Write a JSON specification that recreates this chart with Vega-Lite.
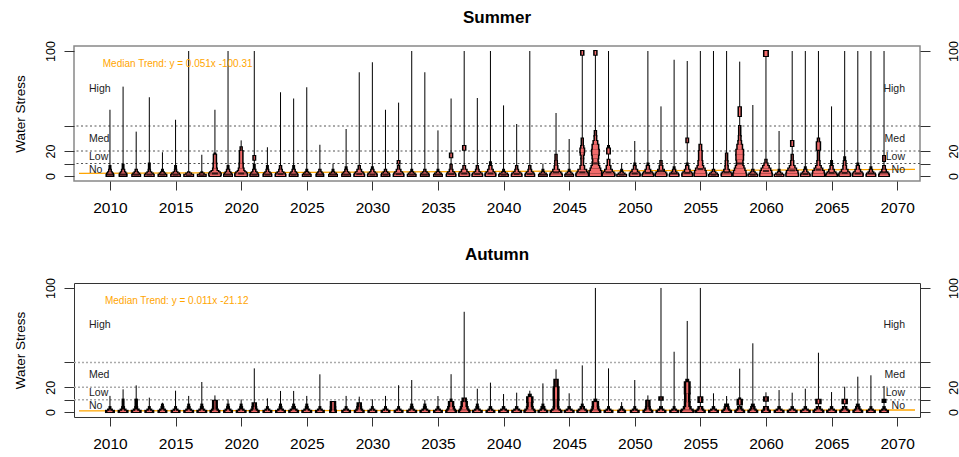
{
"$schema": "https://vega.github.io/schema/vega-lite/v6.json",
"padding": {"left": 12, "top": 7, "right": 0, "bottom": 0},
"spacing": 28,
"config": {"font": "Liberation Sans", "axis": {"grid": false, "domain": false, "tickColor": "#333", "labelColor": "#000", "labelFlush": false, "labelOverlap": false}},
"datasets": {
"thr": [{"t": 10}, {"t": 20}, {"t": 40}],
"labs": [{"lab": "High", "v": 70}, {"lab": "Med", "v": 30}, {"lab": "Low", "v": 15}, {"lab": "No", "v": 5}],
"sumTrend": [{"year": 2007.64, "v": 2.08}, {"year": 2071.36, "v": 5.33}],
"autTrend": [{"year": 2007.64, "v": 0.96}, {"year": 2071.36, "v": 1.66}],
"sumStat": [
{"year":2010,"max":53,"med":1},{"year":2011,"max":71.5,"med":1},{"year":2012,"max":35.5,"med":1},{"year":2013,"max":63,"med":1},{"year":2014,"max":19,"med":1},{"year":2015,"max":45,"med":1},{"year":2016,"max":100,"med":0.5},{"year":2017,"max":17,"med":0.5},{"year":2018,"max":53,"med":2},{"year":2019,"max":100,"med":1},
{"year":2020,"max":28.5,"med":2},{"year":2021,"max":100,"med":1},{"year":2022,"max":23,"med":1},{"year":2023,"max":67,"med":1.5},{"year":2024,"max":62,"med":1},{"year":2025,"max":71,"med":1},{"year":2026,"max":25,"med":1},{"year":2027,"max":10,"med":1},{"year":2028,"max":37.6,"med":1},{"year":2029,"max":83,"med":1.5},
{"year":2030,"max":91,"med":1},{"year":2031,"max":53,"med":1},{"year":2032,"max":58.7,"med":1.5},{"year":2033,"max":100,"med":1},{"year":2034,"max":83,"med":1},{"year":2035,"max":36.5,"med":1},{"year":2036,"max":62,"med":1.5},{"year":2037,"max":100,"med":2},{"year":2038,"max":62.4,"med":1.5},{"year":2039,"max":100,"med":2},
{"year":2040,"max":56.5,"med":1},{"year":2041,"max":41.6,"med":1.5},{"year":2042,"max":100,"med":1.5},{"year":2043,"max":10,"med":1},{"year":2044,"max":50.4,"med":3},{"year":2045,"max":29.6,"med":1},{"year":2046,"max":100,"med":3},{"year":2047,"max":100,"med":10},{"year":2048,"max":100,"med":3},{"year":2049,"max":10,"med":1},
{"year":2050,"max":28,"med":2},{"year":2051,"max":100,"med":2.5},{"year":2052,"max":55.7,"med":4},{"year":2053,"max":93,"med":2},{"year":2054,"max":92,"med":2.5},{"year":2055,"max":100,"med":5.5},{"year":2056,"max":100,"med":1},{"year":2057,"max":100,"med":3},{"year":2058,"max":91.5,"med":10},{"year":2059,"max":56.8,"med":1},
{"year":2060,"max":100,"med":4},{"year":2061,"max":36,"med":1},{"year":2062,"max":100,"med":4.5},{"year":2063,"max":100,"med":1.5},{"year":2064,"max":100,"med":5},{"year":2065,"max":55.7,"med":2.5},{"year":2066,"max":100,"med":2.5},{"year":2067,"max":100,"med":2},{"year":2068,"max":100,"med":2},{"year":2069,"max":100,"med":3}
],
"autStat": [
{"year":2010,"max":13},{"year":2011,"max":18.3},{"year":2012,"max":21.5},{"year":2013,"max":11.6},{"year":2014,"max":7.5},{"year":2015,"max":17.2},{"year":2016,"max":13},{"year":2017,"max":24.2},{"year":2018,"max":13.4},{"year":2019,"max":10.2},
{"year":2020,"max":10.2},{"year":2021,"max":35.2},{"year":2022,"max":11},{"year":2023,"max":17},{"year":2024,"max":17},{"year":2025,"max":13},{"year":2026,"max":30.4},{"year":2027,"max":8.5},{"year":2028,"max":13},{"year":2029,"max":12.4},
{"year":2030,"max":10.3},{"year":2031,"max":13},{"year":2032,"max":21.6},{"year":2033,"max":25.8},{"year":2034,"max":9.8},{"year":2035,"max":12.9},{"year":2036,"max":30.5},{"year":2037,"max":80.8},{"year":2038,"max":18.8},{"year":2039,"max":23.7},
{"year":2040,"max":14.5},{"year":2041,"max":15.6},{"year":2042,"max":17.2},{"year":2043,"max":23.1},{"year":2044,"max":34.4},{"year":2045,"max":15.1},{"year":2046,"max":37.6},{"year":2047,"max":100},{"year":2048,"max":35.2},{"year":2049,"max":8},
{"year":2050,"max":25.8},{"year":2051,"max":13.4},{"year":2052,"max":100},{"year":2053,"max":48.6},{"year":2054,"max":73.4},{"year":2055,"max":100},{"year":2056,"max":15.1},{"year":2057,"max":12.9},{"year":2058,"max":35},{"year":2059,"max":55.4},
{"year":2060,"max":15.9},{"year":2061,"max":17.7},{"year":2062,"max":15.6},{"year":2063,"max":18.8},{"year":2064,"max":47.8},{"year":2065,"max":16.1},{"year":2066,"max":20.4},{"year":2067,"max":28.5},{"year":2068,"max":29.6},{"year":2069,"max":21}
],
"sumSeg": [
{"year":2010,"lo":0,"hi":1,"d":7},{"year":2010,"lo":1,"hi":2,"d":6},{"year":2010,"lo":2,"hi":3,"d":4},{"year":2010,"lo":3,"hi":5,"d":2},{"year":2010,"lo":5,"hi":8,"d":1},
{"year":2011,"lo":0,"hi":1,"d":7},{"year":2011,"lo":1,"hi":2,"d":6.5},{"year":2011,"lo":2,"hi":3,"d":4.5},{"year":2011,"lo":3,"hi":5,"d":2.5},{"year":2011,"lo":5,"hi":9,"d":1},
{"year":2012,"lo":0,"hi":1,"d":8},{"year":2012,"lo":1,"hi":2,"d":6},{"year":2012,"lo":2,"hi":3,"d":3.5},{"year":2012,"lo":3,"hi":5,"d":1.5},
{"year":2013,"lo":0,"hi":1,"d":9},{"year":2013,"lo":1,"hi":2,"d":7},{"year":2013,"lo":2,"hi":3,"d":4},{"year":2013,"lo":3,"hi":5,"d":1.5},{"year":2013,"lo":5,"hi":10,"d":1},
{"year":2014,"lo":0,"hi":1,"d":8},{"year":2014,"lo":1,"hi":2,"d":5.5},{"year":2014,"lo":2,"hi":3,"d":3},{"year":2014,"lo":3,"hi":5,"d":1},
{"year":2015,"lo":0,"hi":1,"d":9},{"year":2015,"lo":1,"hi":2,"d":7},{"year":2015,"lo":2,"hi":3,"d":4},{"year":2015,"lo":3,"hi":5,"d":1.5},{"year":2015,"lo":5,"hi":8,"d":1},
{"year":2016,"lo":0,"hi":1,"d":9},{"year":2016,"lo":1,"hi":2,"d":5},{"year":2016,"lo":2,"hi":3,"d":1.5},
{"year":2017,"lo":0,"hi":1,"d":8},{"year":2017,"lo":1,"hi":2,"d":4},{"year":2017,"lo":2,"hi":3,"d":1},
{"year":2018,"lo":0,"hi":1,"d":11},{"year":2018,"lo":1,"hi":2,"d":12},{"year":2018,"lo":2,"hi":3,"d":10},{"year":2018,"lo":3,"hi":4,"d":7},{"year":2018,"lo":4,"hi":6,"d":4},{"year":2018,"lo":6,"hi":10,"d":3},{"year":2018,"lo":10,"hi":17,"d":2.5},{"year":2018,"lo":17,"hi":18,"d":1},
{"year":2019,"lo":0,"hi":1,"d":8},{"year":2019,"lo":1,"hi":2,"d":7},{"year":2019,"lo":2,"hi":3,"d":5},{"year":2019,"lo":3,"hi":5,"d":2.5},{"year":2019,"lo":5,"hi":8,"d":1},
{"year":2020,"lo":0,"hi":1,"d":12},{"year":2020,"lo":1,"hi":2,"d":12},{"year":2020,"lo":2,"hi":3,"d":10},{"year":2020,"lo":3,"hi":4,"d":7},{"year":2020,"lo":4,"hi":6,"d":5},{"year":2020,"lo":6,"hi":10,"d":3.5},{"year":2020,"lo":10,"hi":20,"d":3},{"year":2020,"lo":20,"hi":23,"d":1.5},
{"year":2021,"lo":0,"hi":1,"d":8},{"year":2021,"lo":1,"hi":2,"d":7},{"year":2021,"lo":2,"hi":3,"d":5},{"year":2021,"lo":3,"hi":5,"d":2.5},{"year":2021,"lo":5,"hi":9,"d":1},{"year":2021,"lo":13,"hi":16,"d":2},
{"year":2022,"lo":0,"hi":1,"d":8},{"year":2022,"lo":1,"hi":2,"d":7},{"year":2022,"lo":2,"hi":3,"d":4.5},{"year":2022,"lo":3,"hi":5,"d":2},{"year":2022,"lo":5,"hi":8,"d":1},
{"year":2023,"lo":0,"hi":1,"d":10},{"year":2023,"lo":1,"hi":2,"d":9},{"year":2023,"lo":2,"hi":3,"d":6},{"year":2023,"lo":3,"hi":5,"d":3},{"year":2023,"lo":5,"hi":8,"d":1.5},
{"year":2024,"lo":0,"hi":1,"d":8},{"year":2024,"lo":1,"hi":2,"d":7},{"year":2024,"lo":2,"hi":3,"d":5},{"year":2024,"lo":3,"hi":5,"d":2.5},{"year":2024,"lo":5,"hi":8,"d":1},
{"year":2025,"lo":0,"hi":1,"d":8},{"year":2025,"lo":1,"hi":2,"d":6},{"year":2025,"lo":2,"hi":3,"d":3},{"year":2025,"lo":3,"hi":5,"d":1},
{"year":2026,"lo":0,"hi":1,"d":7},{"year":2026,"lo":1,"hi":2,"d":6},{"year":2026,"lo":2,"hi":3,"d":3.5},{"year":2026,"lo":3,"hi":5,"d":1.5},
{"year":2027,"lo":0,"hi":1,"d":8},{"year":2027,"lo":1,"hi":2,"d":6},{"year":2027,"lo":2,"hi":3,"d":2.5},{"year":2027,"lo":3,"hi":5,"d":1},
{"year":2028,"lo":0,"hi":1,"d":8},{"year":2028,"lo":1,"hi":2,"d":7},{"year":2028,"lo":2,"hi":3,"d":4.5},{"year":2028,"lo":3,"hi":5,"d":2},{"year":2028,"lo":5,"hi":7,"d":1},
{"year":2029,"lo":0,"hi":1,"d":10},{"year":2029,"lo":1,"hi":2,"d":9},{"year":2029,"lo":2,"hi":3,"d":7},{"year":2029,"lo":3,"hi":5,"d":4},{"year":2029,"lo":5,"hi":8,"d":1.5},
{"year":2030,"lo":0,"hi":1,"d":9},{"year":2030,"lo":1,"hi":2,"d":8},{"year":2030,"lo":2,"hi":3,"d":5},{"year":2030,"lo":3,"hi":5,"d":2.5},{"year":2030,"lo":5,"hi":7,"d":1},
{"year":2031,"lo":0,"hi":1,"d":8},{"year":2031,"lo":1,"hi":2,"d":7},{"year":2031,"lo":2,"hi":3,"d":4},{"year":2031,"lo":3,"hi":5,"d":1.5},
{"year":2032,"lo":0,"hi":1,"d":10},{"year":2032,"lo":1,"hi":2,"d":9},{"year":2032,"lo":2,"hi":3,"d":7},{"year":2032,"lo":3,"hi":5,"d":4},{"year":2032,"lo":5,"hi":8,"d":1.5},{"year":2032,"lo":10,"hi":12,"d":2},
{"year":2033,"lo":0,"hi":1,"d":8},{"year":2033,"lo":1,"hi":2,"d":6},{"year":2033,"lo":2,"hi":3,"d":3},{"year":2033,"lo":3,"hi":5,"d":1},
{"year":2034,"lo":0,"hi":1,"d":8},{"year":2034,"lo":1,"hi":2,"d":7},{"year":2034,"lo":2,"hi":3,"d":4},{"year":2034,"lo":3,"hi":5,"d":1.5},
{"year":2035,"lo":0,"hi":1,"d":8},{"year":2035,"lo":1,"hi":2,"d":6},{"year":2035,"lo":2,"hi":3,"d":3},{"year":2035,"lo":3,"hi":5,"d":1},
{"year":2036,"lo":0,"hi":1,"d":9},{"year":2036,"lo":1,"hi":2,"d":8},{"year":2036,"lo":2,"hi":3,"d":6},{"year":2036,"lo":3,"hi":5,"d":3},{"year":2036,"lo":5,"hi":9,"d":1.5},{"year":2036,"lo":15,"hi":18,"d":2.5},
{"year":2037,"lo":0,"hi":1,"d":10},{"year":2037,"lo":1,"hi":2,"d":10},{"year":2037,"lo":2,"hi":3,"d":8},{"year":2037,"lo":3,"hi":5,"d":5},{"year":2037,"lo":5,"hi":8,"d":2},{"year":2037,"lo":21,"hi":24,"d":2.5},
{"year":2038,"lo":0,"hi":1,"d":10},{"year":2038,"lo":1,"hi":2,"d":9},{"year":2038,"lo":2,"hi":3,"d":6},{"year":2038,"lo":3,"hi":5,"d":3},{"year":2038,"lo":5,"hi":8,"d":1.5},
{"year":2039,"lo":0,"hi":1,"d":10},{"year":2039,"lo":1,"hi":2,"d":10},{"year":2039,"lo":2,"hi":3,"d":8},{"year":2039,"lo":3,"hi":5,"d":5},{"year":2039,"lo":5,"hi":8,"d":2.5},{"year":2039,"lo":8,"hi":11,"d":1},
{"year":2040,"lo":0,"hi":1,"d":9},{"year":2040,"lo":1,"hi":2,"d":7},{"year":2040,"lo":2,"hi":3,"d":3},{"year":2040,"lo":3,"hi":5,"d":1},
{"year":2041,"lo":0,"hi":1,"d":10},{"year":2041,"lo":1,"hi":2,"d":9},{"year":2041,"lo":2,"hi":3,"d":6},{"year":2041,"lo":3,"hi":5,"d":3},{"year":2041,"lo":5,"hi":8,"d":1.5},
{"year":2042,"lo":0,"hi":1,"d":9},{"year":2042,"lo":1,"hi":2,"d":8},{"year":2042,"lo":2,"hi":3,"d":6},{"year":2042,"lo":3,"hi":5,"d":3},{"year":2042,"lo":5,"hi":8,"d":1.5},
{"year":2043,"lo":0,"hi":1,"d":8},{"year":2043,"lo":1,"hi":2,"d":6},{"year":2043,"lo":2,"hi":3,"d":2.5},{"year":2043,"lo":3,"hi":5,"d":1},
{"year":2044,"lo":0,"hi":1,"d":12},{"year":2044,"lo":1,"hi":2,"d":11},{"year":2044,"lo":2,"hi":3,"d":9},{"year":2044,"lo":3,"hi":5,"d":6},{"year":2044,"lo":5,"hi":8,"d":3},{"year":2044,"lo":8,"hi":12,"d":2},{"year":2044,"lo":12,"hi":17,"d":1.5},
{"year":2045,"lo":0,"hi":1,"d":8},{"year":2045,"lo":1,"hi":2,"d":6},{"year":2045,"lo":2,"hi":3,"d":3},{"year":2045,"lo":3,"hi":5,"d":1},
{"year":2046,"lo":0,"hi":1,"d":12},{"year":2046,"lo":1,"hi":2,"d":12},{"year":2046,"lo":2,"hi":3,"d":10},{"year":2046,"lo":3,"hi":5,"d":8},{"year":2046,"lo":5,"hi":8,"d":4},{"year":2046,"lo":8,"hi":14,"d":2},{"year":2046,"lo":14,"hi":17,"d":2},{"year":2046,"lo":17,"hi":19,"d":3.5},{"year":2046,"lo":19,"hi":22,"d":4},{"year":2046,"lo":22,"hi":24,"d":2.5},{"year":2046,"lo":24,"hi":30,"d":1.5},{"year":2046,"lo":97,"hi":100,"d":2.5},
{"year":2047,"lo":0,"hi":2,"d":12},{"year":2047,"lo":2,"hi":4,"d":12},{"year":2047,"lo":4,"hi":6,"d":10},{"year":2047,"lo":6,"hi":8,"d":8},{"year":2047,"lo":8,"hi":11,"d":6},{"year":2047,"lo":11,"hi":14,"d":5},{"year":2047,"lo":14,"hi":17,"d":6},{"year":2047,"lo":17,"hi":21,"d":7},{"year":2047,"lo":21,"hi":25,"d":6},{"year":2047,"lo":25,"hi":28,"d":4},{"year":2047,"lo":28,"hi":32,"d":2},{"year":2047,"lo":32,"hi":36,"d":1.5},{"year":2047,"lo":97,"hi":100,"d":2.5},
{"year":2048,"lo":0,"hi":1,"d":12},{"year":2048,"lo":1,"hi":2,"d":12},{"year":2048,"lo":2,"hi":3,"d":10},{"year":2048,"lo":3,"hi":5,"d":7},{"year":2048,"lo":5,"hi":8,"d":4},{"year":2048,"lo":8,"hi":13,"d":2},{"year":2048,"lo":18,"hi":22,"d":3},{"year":2048,"lo":22,"hi":24,"d":1},
{"year":2049,"lo":0,"hi":1,"d":9},{"year":2049,"lo":1,"hi":2,"d":6},{"year":2049,"lo":2,"hi":3,"d":2.5},{"year":2049,"lo":3,"hi":5,"d":1},
{"year":2050,"lo":0,"hi":1,"d":10},{"year":2050,"lo":1,"hi":2,"d":10},{"year":2050,"lo":2,"hi":3,"d":8},{"year":2050,"lo":3,"hi":5,"d":5},{"year":2050,"lo":5,"hi":8,"d":2},{"year":2050,"lo":8,"hi":10,"d":1},
{"year":2051,"lo":0,"hi":1,"d":11},{"year":2051,"lo":1,"hi":2,"d":10},{"year":2051,"lo":2,"hi":3,"d":8},{"year":2051,"lo":3,"hi":5,"d":5},{"year":2051,"lo":5,"hi":8,"d":2.5},{"year":2051,"lo":8,"hi":10,"d":1},
{"year":2052,"lo":0,"hi":1,"d":11},{"year":2052,"lo":1,"hi":2,"d":11},{"year":2052,"lo":2,"hi":3,"d":9},{"year":2052,"lo":3,"hi":5,"d":6},{"year":2052,"lo":5,"hi":8,"d":3},{"year":2052,"lo":8,"hi":12,"d":1.5},
{"year":2053,"lo":0,"hi":1,"d":9},{"year":2053,"lo":1,"hi":2,"d":8},{"year":2053,"lo":2,"hi":3,"d":5},{"year":2053,"lo":3,"hi":5,"d":2.5},{"year":2053,"lo":5,"hi":7,"d":1},
{"year":2054,"lo":0,"hi":1,"d":10},{"year":2054,"lo":1,"hi":2,"d":10},{"year":2054,"lo":2,"hi":3,"d":8},{"year":2054,"lo":3,"hi":5,"d":5},{"year":2054,"lo":5,"hi":8,"d":2.5},{"year":2054,"lo":8,"hi":10,"d":1},{"year":2054,"lo":27,"hi":30,"d":2},
{"year":2055,"lo":0,"hi":2,"d":12},{"year":2055,"lo":2,"hi":4,"d":11},{"year":2055,"lo":4,"hi":6,"d":9},{"year":2055,"lo":6,"hi":8,"d":6},{"year":2055,"lo":8,"hi":12,"d":4},{"year":2055,"lo":12,"hi":20,"d":3},{"year":2055,"lo":20,"hi":25,"d":2},
{"year":2056,"lo":0,"hi":1,"d":9},{"year":2056,"lo":1,"hi":2,"d":7},{"year":2056,"lo":2,"hi":3,"d":4},{"year":2056,"lo":3,"hi":5,"d":1.5},
{"year":2057,"lo":0,"hi":1,"d":10},{"year":2057,"lo":1,"hi":2,"d":10},{"year":2057,"lo":2,"hi":3,"d":8},{"year":2057,"lo":3,"hi":5,"d":5},{"year":2057,"lo":5,"hi":8,"d":2.5},{"year":2057,"lo":8,"hi":12,"d":2},{"year":2057,"lo":12,"hi":18,"d":1.5},
{"year":2058,"lo":0,"hi":2,"d":13},{"year":2058,"lo":2,"hi":4,"d":12},{"year":2058,"lo":4,"hi":6,"d":10},{"year":2058,"lo":6,"hi":8,"d":8},{"year":2058,"lo":8,"hi":10,"d":6},{"year":2058,"lo":10,"hi":13,"d":6},{"year":2058,"lo":13,"hi":17,"d":7},{"year":2058,"lo":17,"hi":21,"d":7},{"year":2058,"lo":21,"hi":25,"d":5},{"year":2058,"lo":25,"hi":28,"d":3},{"year":2058,"lo":28,"hi":32,"d":2},{"year":2058,"lo":32,"hi":40,"d":1.5},{"year":2058,"lo":48,"hi":55,"d":2.5},
{"year":2059,"lo":0,"hi":1,"d":9},{"year":2059,"lo":1,"hi":2,"d":7},{"year":2059,"lo":2,"hi":3,"d":4},{"year":2059,"lo":3,"hi":5,"d":1.5},
{"year":2060,"lo":0,"hi":2,"d":12},{"year":2060,"lo":2,"hi":4,"d":11},{"year":2060,"lo":4,"hi":6,"d":9},{"year":2060,"lo":6,"hi":8,"d":6},{"year":2060,"lo":8,"hi":10,"d":3.5},{"year":2060,"lo":10,"hi":13,"d":1.5},{"year":2060,"lo":96,"hi":100,"d":4},
{"year":2061,"lo":0,"hi":1,"d":9},{"year":2061,"lo":1,"hi":2,"d":6},{"year":2061,"lo":2,"hi":3,"d":2.5},{"year":2061,"lo":3,"hi":5,"d":1},
{"year":2062,"lo":0,"hi":2,"d":12},{"year":2062,"lo":2,"hi":4,"d":11},{"year":2062,"lo":4,"hi":6,"d":8},{"year":2062,"lo":6,"hi":8,"d":5},{"year":2062,"lo":8,"hi":12,"d":2.5},{"year":2062,"lo":12,"hi":17,"d":1.5},{"year":2062,"lo":24,"hi":28,"d":2.5},
{"year":2063,"lo":0,"hi":1,"d":9},{"year":2063,"lo":1,"hi":2,"d":8},{"year":2063,"lo":2,"hi":3,"d":5},{"year":2063,"lo":3,"hi":5,"d":2.5},{"year":2063,"lo":5,"hi":7,"d":1},
{"year":2064,"lo":0,"hi":2,"d":12},{"year":2064,"lo":2,"hi":4,"d":11},{"year":2064,"lo":4,"hi":6,"d":8},{"year":2064,"lo":6,"hi":8,"d":5},{"year":2064,"lo":8,"hi":12,"d":2.5},{"year":2064,"lo":12,"hi":20,"d":1.5},{"year":2064,"lo":21,"hi":27,"d":3.5},{"year":2064,"lo":27,"hi":30,"d":1.5},
{"year":2065,"lo":0,"hi":1,"d":11},{"year":2065,"lo":1,"hi":2,"d":10},{"year":2065,"lo":2,"hi":3,"d":8},{"year":2065,"lo":3,"hi":5,"d":5},{"year":2065,"lo":5,"hi":8,"d":2.5},{"year":2065,"lo":8,"hi":12,"d":1},
{"year":2066,"lo":0,"hi":1,"d":11},{"year":2066,"lo":1,"hi":2,"d":11},{"year":2066,"lo":2,"hi":3,"d":9},{"year":2066,"lo":3,"hi":5,"d":6},{"year":2066,"lo":5,"hi":8,"d":3},{"year":2066,"lo":8,"hi":12,"d":2},{"year":2066,"lo":12,"hi":15,"d":1},
{"year":2067,"lo":0,"hi":1,"d":10},{"year":2067,"lo":1,"hi":2,"d":10},{"year":2067,"lo":2,"hi":3,"d":8},{"year":2067,"lo":3,"hi":5,"d":5},{"year":2067,"lo":5,"hi":8,"d":2.5},{"year":2067,"lo":8,"hi":10,"d":1},
{"year":2068,"lo":0,"hi":1,"d":9},{"year":2068,"lo":1,"hi":2,"d":8},{"year":2068,"lo":2,"hi":3,"d":5},{"year":2068,"lo":3,"hi":5,"d":2.5},{"year":2068,"lo":5,"hi":7,"d":1},
{"year":2069,"lo":0,"hi":1,"d":10},{"year":2069,"lo":1,"hi":2,"d":9},{"year":2069,"lo":2,"hi":3,"d":7},{"year":2069,"lo":3,"hi":5,"d":4},{"year":2069,"lo":5,"hi":8,"d":2},{"year":2069,"lo":12,"hi":16,"d":2}
],
"autSeg": [
{"year":2010,"lo":0,"hi":1,"d":8},{"year":2010,"lo":1,"hi":2,"d":4},{"year":2010,"lo":2,"hi":4,"d":1},
{"year":2011,"lo":0,"hi":1,"d":9},{"year":2011,"lo":1,"hi":2,"d":5},{"year":2011,"lo":2,"hi":4,"d":2},{"year":2011,"lo":4,"hi":10,"d":1},
{"year":2012,"lo":0,"hi":1,"d":9},{"year":2012,"lo":1,"hi":2,"d":5},{"year":2012,"lo":2,"hi":4,"d":2},{"year":2012,"lo":4,"hi":10,"d":1.5},
{"year":2013,"lo":0,"hi":1,"d":8},{"year":2013,"lo":1,"hi":2,"d":4},{"year":2013,"lo":2,"hi":4,"d":1},
{"year":2014,"lo":0,"hi":1,"d":8},{"year":2014,"lo":1,"hi":2,"d":5},{"year":2014,"lo":2,"hi":4,"d":2},{"year":2014,"lo":4,"hi":6,"d":1},
{"year":2015,"lo":0,"hi":1,"d":8},{"year":2015,"lo":1,"hi":2,"d":4},{"year":2015,"lo":2,"hi":4,"d":1},
{"year":2016,"lo":0,"hi":1,"d":9},{"year":2016,"lo":1,"hi":2,"d":5},{"year":2016,"lo":2,"hi":4,"d":2},{"year":2016,"lo":4,"hi":6,"d":1},
{"year":2017,"lo":0,"hi":1,"d":9},{"year":2017,"lo":1,"hi":2,"d":5},{"year":2017,"lo":2,"hi":4,"d":2},{"year":2017,"lo":4,"hi":6,"d":1},
{"year":2018,"lo":0,"hi":1,"d":9},{"year":2018,"lo":1,"hi":2,"d":6},{"year":2018,"lo":2,"hi":4,"d":4},{"year":2018,"lo":4,"hi":9,"d":4},
{"year":2019,"lo":0,"hi":1,"d":8},{"year":2019,"lo":1,"hi":2,"d":5},{"year":2019,"lo":2,"hi":4,"d":2},{"year":2019,"lo":4,"hi":6,"d":1},
{"year":2020,"lo":0,"hi":1,"d":9},{"year":2020,"lo":1,"hi":2,"d":5},{"year":2020,"lo":2,"hi":4,"d":2},{"year":2020,"lo":4,"hi":6,"d":1},
{"year":2021,"lo":0,"hi":1,"d":9},{"year":2021,"lo":1,"hi":2,"d":6},{"year":2021,"lo":2,"hi":4,"d":4},{"year":2021,"lo":4,"hi":7,"d":3.5},
{"year":2022,"lo":0,"hi":1,"d":8},{"year":2022,"lo":1,"hi":2,"d":4},{"year":2022,"lo":2,"hi":4,"d":1},
{"year":2023,"lo":0,"hi":1,"d":9},{"year":2023,"lo":1,"hi":2,"d":5},{"year":2023,"lo":2,"hi":4,"d":2},{"year":2023,"lo":4,"hi":6,"d":1},
{"year":2024,"lo":0,"hi":1,"d":9},{"year":2024,"lo":1,"hi":2,"d":6},{"year":2024,"lo":2,"hi":4,"d":2.5},{"year":2024,"lo":4,"hi":6,"d":1},
{"year":2025,"lo":0,"hi":1,"d":9},{"year":2025,"lo":1,"hi":2,"d":5},{"year":2025,"lo":2,"hi":4,"d":2},{"year":2025,"lo":4,"hi":6,"d":1},
{"year":2026,"lo":0,"hi":1,"d":8},{"year":2026,"lo":1,"hi":2,"d":4},{"year":2026,"lo":2,"hi":4,"d":1},
{"year":2027,"lo":0,"hi":1,"d":6},{"year":2027,"lo":1,"hi":2,"d":5},{"year":2027,"lo":2,"hi":4,"d":4.5},{"year":2027,"lo":4,"hi":8,"d":4.5},
{"year":2028,"lo":0,"hi":1,"d":8},{"year":2028,"lo":1,"hi":2,"d":4},{"year":2028,"lo":2,"hi":4,"d":1},
{"year":2029,"lo":0,"hi":1,"d":9},{"year":2029,"lo":1,"hi":2,"d":6},{"year":2029,"lo":2,"hi":4,"d":4},{"year":2029,"lo":4,"hi":7,"d":3.5},
{"year":2030,"lo":0,"hi":1,"d":8},{"year":2030,"lo":1,"hi":2,"d":4},{"year":2030,"lo":2,"hi":4,"d":1},
{"year":2031,"lo":0,"hi":1,"d":8},{"year":2031,"lo":1,"hi":2,"d":4},{"year":2031,"lo":2,"hi":4,"d":1},
{"year":2032,"lo":0,"hi":1,"d":8},{"year":2032,"lo":1,"hi":2,"d":4},{"year":2032,"lo":2,"hi":4,"d":1},
{"year":2033,"lo":0,"hi":1,"d":9},{"year":2033,"lo":1,"hi":2,"d":5},{"year":2033,"lo":2,"hi":4,"d":2},{"year":2033,"lo":4,"hi":6,"d":1},
{"year":2034,"lo":0,"hi":1,"d":9},{"year":2034,"lo":1,"hi":2,"d":5},{"year":2034,"lo":2,"hi":4,"d":2},{"year":2034,"lo":4,"hi":6,"d":1},
{"year":2035,"lo":0,"hi":1,"d":8},{"year":2035,"lo":1,"hi":2,"d":4},{"year":2035,"lo":2,"hi":4,"d":1},
{"year":2036,"lo":0,"hi":1,"d":10},{"year":2036,"lo":1,"hi":2,"d":8},{"year":2036,"lo":2,"hi":4,"d":6},{"year":2036,"lo":4,"hi":8,"d":4.5},{"year":2036,"lo":8,"hi":10,"d":1},
{"year":2037,"lo":0,"hi":1,"d":11},{"year":2037,"lo":1,"hi":2,"d":9},{"year":2037,"lo":2,"hi":4,"d":7},{"year":2037,"lo":4,"hi":8,"d":5.5},{"year":2037,"lo":8,"hi":11,"d":3.5},
{"year":2038,"lo":0,"hi":1,"d":9},{"year":2038,"lo":1,"hi":2,"d":5},{"year":2038,"lo":2,"hi":4,"d":2},{"year":2038,"lo":4,"hi":6,"d":1},
{"year":2039,"lo":0,"hi":1,"d":8},{"year":2039,"lo":1,"hi":2,"d":4},{"year":2039,"lo":2,"hi":4,"d":1.5},
{"year":2040,"lo":0,"hi":1,"d":9},{"year":2040,"lo":1,"hi":2,"d":5},{"year":2040,"lo":2,"hi":4,"d":1.5},
{"year":2041,"lo":0,"hi":1,"d":9},{"year":2041,"lo":1,"hi":2,"d":5},{"year":2041,"lo":2,"hi":4,"d":1.5},
{"year":2042,"lo":0,"hi":1,"d":11},{"year":2042,"lo":1,"hi":2,"d":9},{"year":2042,"lo":2,"hi":4,"d":6},{"year":2042,"lo":4,"hi":8,"d":5},{"year":2042,"lo":8,"hi":12,"d":5.5},{"year":2042,"lo":12,"hi":14,"d":2},
{"year":2043,"lo":0,"hi":1,"d":9},{"year":2043,"lo":1,"hi":2,"d":5},{"year":2043,"lo":2,"hi":4,"d":3},{"year":2043,"lo":4,"hi":6,"d":1},
{"year":2044,"lo":0,"hi":1,"d":11},{"year":2044,"lo":1,"hi":2,"d":8},{"year":2044,"lo":2,"hi":4,"d":5},{"year":2044,"lo":4,"hi":10,"d":4.5},{"year":2044,"lo":10,"hi":20,"d":5},{"year":2044,"lo":20,"hi":26,"d":3.5},
{"year":2045,"lo":0,"hi":1,"d":9},{"year":2045,"lo":1,"hi":2,"d":5},{"year":2045,"lo":2,"hi":4,"d":1.5},
{"year":2046,"lo":0,"hi":1,"d":10},{"year":2046,"lo":1,"hi":2,"d":7},{"year":2046,"lo":2,"hi":4,"d":3.5},{"year":2046,"lo":4,"hi":6,"d":1},
{"year":2047,"lo":0,"hi":1,"d":10},{"year":2047,"lo":1,"hi":2,"d":8},{"year":2047,"lo":2,"hi":4,"d":6},{"year":2047,"lo":4,"hi":8,"d":5.5},{"year":2047,"lo":8,"hi":10,"d":2},
{"year":2048,"lo":0,"hi":1,"d":8},{"year":2048,"lo":1,"hi":2,"d":4},{"year":2048,"lo":2,"hi":4,"d":1},
{"year":2049,"lo":0,"hi":1,"d":7},{"year":2049,"lo":1,"hi":2,"d":4},{"year":2049,"lo":2,"hi":4,"d":1},
{"year":2050,"lo":0,"hi":1,"d":8},{"year":2050,"lo":1,"hi":2,"d":4},{"year":2050,"lo":2,"hi":4,"d":1},
{"year":2051,"lo":0,"hi":1,"d":9},{"year":2051,"lo":1,"hi":2,"d":6},{"year":2051,"lo":2,"hi":4,"d":4},{"year":2051,"lo":4,"hi":9,"d":3.5},
{"year":2052,"lo":0,"hi":1,"d":9},{"year":2052,"lo":1,"hi":2,"d":5},{"year":2052,"lo":2,"hi":4,"d":2},{"year":2052,"lo":10,"hi":12,"d":3.5},
{"year":2053,"lo":0,"hi":1,"d":8},{"year":2053,"lo":1,"hi":2,"d":4},{"year":2053,"lo":2,"hi":4,"d":1},
{"year":2054,"lo":0,"hi":1,"d":13},{"year":2054,"lo":1,"hi":2,"d":11},{"year":2054,"lo":2,"hi":4,"d":7},{"year":2054,"lo":4,"hi":8,"d":5},{"year":2054,"lo":8,"hi":15,"d":4.5},{"year":2054,"lo":15,"hi":24,"d":5},{"year":2054,"lo":24,"hi":26,"d":2},
{"year":2055,"lo":0,"hi":1,"d":9},{"year":2055,"lo":1,"hi":2,"d":6},{"year":2055,"lo":2,"hi":4,"d":4},{"year":2055,"lo":8,"hi":12,"d":4},
{"year":2056,"lo":0,"hi":1,"d":9},{"year":2056,"lo":1,"hi":2,"d":5},{"year":2056,"lo":2,"hi":4,"d":1.5},
{"year":2057,"lo":0,"hi":1,"d":9},{"year":2057,"lo":1,"hi":2,"d":6},{"year":2057,"lo":2,"hi":4,"d":4},{"year":2057,"lo":4,"hi":6,"d":3},
{"year":2058,"lo":0,"hi":1,"d":9},{"year":2058,"lo":1,"hi":2,"d":6},{"year":2058,"lo":2,"hi":4,"d":3.5},{"year":2058,"lo":6,"hi":10,"d":4.5},{"year":2058,"lo":10,"hi":11,"d":1},
{"year":2059,"lo":0,"hi":1,"d":9},{"year":2059,"lo":1,"hi":2,"d":6},{"year":2059,"lo":2,"hi":4,"d":3.5},{"year":2059,"lo":4,"hi":6,"d":2},
{"year":2060,"lo":0,"hi":1,"d":8},{"year":2060,"lo":1,"hi":2,"d":5},{"year":2060,"lo":2,"hi":4,"d":4},{"year":2060,"lo":9,"hi":12,"d":4},
{"year":2061,"lo":0,"hi":1,"d":9},{"year":2061,"lo":1,"hi":2,"d":5},{"year":2061,"lo":2,"hi":4,"d":1.5},
{"year":2062,"lo":0,"hi":1,"d":9},{"year":2062,"lo":1,"hi":2,"d":5},{"year":2062,"lo":2,"hi":4,"d":1.5},
{"year":2063,"lo":0,"hi":1,"d":9},{"year":2063,"lo":1,"hi":2,"d":5},{"year":2063,"lo":2,"hi":4,"d":1.5},
{"year":2064,"lo":0,"hi":1,"d":10},{"year":2064,"lo":1,"hi":2,"d":7},{"year":2064,"lo":2,"hi":4,"d":3.5},{"year":2064,"lo":7,"hi":10,"d":4.5},
{"year":2065,"lo":0,"hi":1,"d":9},{"year":2065,"lo":1,"hi":2,"d":5},{"year":2065,"lo":2,"hi":4,"d":1.5},
{"year":2066,"lo":0,"hi":1,"d":9},{"year":2066,"lo":1,"hi":2,"d":6},{"year":2066,"lo":2,"hi":4,"d":3.5},{"year":2066,"lo":7,"hi":10,"d":4.5},
{"year":2067,"lo":0,"hi":1,"d":9},{"year":2067,"lo":1,"hi":2,"d":6},{"year":2067,"lo":2,"hi":4,"d":3.5},{"year":2067,"lo":4,"hi":6,"d":2},
{"year":2068,"lo":0,"hi":1,"d":8},{"year":2068,"lo":1,"hi":2,"d":4},{"year":2068,"lo":2,"hi":4,"d":1},
{"year":2069,"lo":0,"hi":1,"d":8},{"year":2069,"lo":1,"hi":2,"d":4},{"year":2069,"lo":2,"hi":4,"d":1.5},{"year":2069,"lo":8,"hi":10,"d":3}
]
},
"vconcat": [
{
"width": 846, "height": 135,
"title": {"text": "Summer", "fontSize": 17, "fontWeight": "bold", "anchor": "middle", "frame": "group", "baseline": "alphabetic", "offset": 1, "color": "#000"},
"view": {"stroke": "#888", "strokeWidth": 1.5},
"layer": [
{"data": {"name": "thr"}, "mark": {"type": "rule", "color": "#555", "strokeWidth": 1, "strokeDash": [2, 2.5]},
 "encoding": {"y": {"field": "t", "type": "quantitative", "scale": {"domain": [-4, 104], "nice": false, "zero": false},
  "axis": {"orient": "left", "values": [0, 10, 20, 40, 100], "labelExpr": "datum.value==10||datum.value==40?'':datum.label", "labelAngle": -90, "labelAlign": "center", "labelBaseline": "alphabetic", "labelPadding": 10, "tickSize": 10, "labelFontSize": 12.5, "title": "Water Stress", "titleFontSize": 13.5, "titleFontWeight": "normal", "titleX": -50, "titleY": 67.5, "titleAngle": -90, "titleAlign": "center", "titleBaseline": "alphabetic"}}}},
{"data": {"name": "sumTrend"}, "mark": {"type": "line", "color": "#FFA500", "strokeWidth": 1.3},
 "encoding": {"x": {"field": "year", "type": "quantitative", "scale": {"domain": [2007.64, 2071.36], "nice": false, "zero": false}, "axis": {"orient": "bottom", "values": [2010, 2015, 2020, 2025, 2030, 2035, 2040, 2045, 2050, 2055, 2060, 2065, 2070], "format": "d", "labelFontSize": 15.5, "tickSize": 9, "labelPadding": 10, "title": null}}, "y": {"field": "v", "type": "quantitative", "axis": null}}},
{"data": {"name": "sumStat"}, "mark": {"type": "rule", "color": "#000", "strokeWidth": 1},
 "encoding": {"x": {"field": "year", "type": "quantitative", "scale": {"domain": [2007.64, 2071.36], "nice": false, "zero": false},
  "axis": {"orient": "bottom", "values": [2010, 2015, 2020, 2025, 2030, 2035, 2040, 2045, 2050, 2055, 2060, 2065, 2070], "format": "d", "labelFontSize": 15.5, "tickSize": 9, "labelPadding": 10, "title": null}},
  "y": {"field": "max", "type": "quantitative", "scale": {"domain": [-4, 104], "nice": false, "zero": false},
  "axis": {"orient": "right", "values": [0, 10, 20, 40, 100], "labelExpr": "datum.value==10||datum.value==40?'':datum.label", "labelAngle": -90, "labelAlign": "center", "labelBaseline": "alphabetic", "labelPadding": 27, "tickSize": 10, "labelFontSize": 12.5, "title": null}},
  "y2": {"datum": 0}}},
{"data": {"name": "sumSeg"}, "mark": {"type": "bar", "color": "#000", "stroke": "#000", "strokeWidth": 2, "clip": true},
 "encoding": {"x": {"field": "year", "type": "quantitative", "axis": {"orient": "bottom", "values": [2010, 2015, 2020, 2025, 2030, 2035, 2040, 2045, 2050, 2055, 2060, 2065, 2070], "format": "d", "labelFontSize": 15.5, "tickSize": 9, "labelPadding": 10, "title": null}},
  "y": {"field": "lo", "type": "quantitative", "axis": null}, "y2": {"field": "hi"},
  "size": {"field": "d", "type": "quantitative", "scale": {"domain": [0, 12], "range": [0, 12]}, "legend": null}}},
{"data": {"name": "sumSeg"}, "mark": {"type": "bar", "color": "#F26B6B", "clip": true},
 "encoding": {"x": {"field": "year", "type": "quantitative", "axis": {"orient": "bottom", "values": [2010, 2015, 2020, 2025, 2030, 2035, 2040, 2045, 2050, 2055, 2060, 2065, 2070], "format": "d", "labelFontSize": 15.5, "tickSize": 9, "labelPadding": 10, "title": null}},
  "y": {"field": "lo", "type": "quantitative", "axis": null}, "y2": {"field": "hi"},
  "size": {"field": "d", "type": "quantitative", "scale": {"domain": [1, 13], "range": [0, 12], "zero": false, "clamp": true}, "legend": null}}},
{"data": {"name": "sumStat"}, "mark": {"type": "tick", "orient": "horizontal", "color": "#000", "size": 6, "thickness": 2},
 "encoding": {"x": {"field": "year", "type": "quantitative", "axis": {"orient": "bottom", "values": [2010, 2015, 2020, 2025, 2030, 2035, 2040, 2045, 2050, 2055, 2060, 2065, 2070], "format": "d", "labelFontSize": 15.5, "tickSize": 9, "labelPadding": 10, "title": null}}, "y": {"field": "med", "type": "quantitative", "axis": null}}},
{"data": {"values": [{"txt": "Median Trend: y = 0.051x -100.31"}]}, "mark": {"type": "text", "color": "#FFA500", "fontSize": 10, "align": "left", "baseline": "middle"},
 "encoding": {"x": {"datum": 2009.45, "type": "quantitative", "axis": {"orient": "bottom", "values": [2010, 2015, 2020, 2025, 2030, 2035, 2040, 2045, 2050, 2055, 2060, 2065, 2070], "format": "d", "labelFontSize": 15.5, "tickSize": 9, "labelPadding": 10, "title": null}}, "y": {"datum": 89.6, "type": "quantitative", "axis": null}, "text": {"field": "txt"}}},
{"data": {"name": "labs"}, "mark": {"type": "text", "color": "#222", "fontSize": 10.5, "align": "left", "baseline": "middle"},
 "encoding": {"x": {"datum": 2008.4, "type": "quantitative", "axis": {"orient": "bottom", "values": [2010, 2015, 2020, 2025, 2030, 2035, 2040, 2045, 2050, 2055, 2060, 2065, 2070], "format": "d", "labelFontSize": 15.5, "tickSize": 9, "labelPadding": 10, "title": null}}, "y": {"field": "v", "type": "quantitative", "axis": null}, "text": {"field": "lab"}}},
{"data": {"name": "labs"}, "mark": {"type": "text", "color": "#222", "fontSize": 10.5, "align": "right", "baseline": "middle"},
 "encoding": {"x": {"datum": 2070.6, "type": "quantitative", "axis": {"orient": "bottom", "values": [2010, 2015, 2020, 2025, 2030, 2035, 2040, 2045, 2050, 2055, 2060, 2065, 2070], "format": "d", "labelFontSize": 15.5, "tickSize": 9, "labelPadding": 10, "title": null}}, "y": {"field": "v", "type": "quantitative", "axis": null}, "text": {"field": "lab"}}}
],
"resolve": {"scale": {"size": "independent"}, "axis": {"y": "independent"}}
},
{
"width": 846, "height": 134,
"title": {"text": "Autumn", "fontSize": 17, "fontWeight": "bold", "anchor": "middle", "frame": "group", "baseline": "alphabetic", "offset": 1, "color": "#000"},
"view": {"stroke": "#333", "strokeWidth": 1},
"layer": [
{"data": {"name": "thr"}, "mark": {"type": "rule", "color": "#aaa", "strokeWidth": 1.5, "strokeDash": [2, 2]},
 "encoding": {"y": {"field": "t", "type": "quantitative", "scale": {"domain": [-4, 104], "nice": false, "zero": false},
  "axis": {"orient": "left", "values": [0, 10, 20, 40, 100], "labelExpr": "datum.value==10||datum.value==40?'':datum.label", "labelAngle": -90, "labelAlign": "center", "labelBaseline": "alphabetic", "labelPadding": 10, "tickSize": 10, "labelFontSize": 12.5, "title": "Water Stress", "titleFontSize": 13.5, "titleFontWeight": "normal", "titleX": -50, "titleY": 67, "titleAngle": -90, "titleAlign": "center", "titleBaseline": "alphabetic"}}}},
{"data": {"name": "autTrend"}, "mark": {"type": "line", "color": "#FFA500", "strokeWidth": 1.3},
 "encoding": {"x": {"field": "year", "type": "quantitative", "scale": {"domain": [2007.64, 2071.36], "nice": false, "zero": false}, "axis": {"orient": "bottom", "values": [2010, 2015, 2020, 2025, 2030, 2035, 2040, 2045, 2050, 2055, 2060, 2065, 2070], "format": "d", "labelFontSize": 15.5, "tickSize": 9, "labelPadding": 10, "title": null}}, "y": {"field": "v", "type": "quantitative", "axis": null}}},
{"data": {"name": "autStat"}, "mark": {"type": "rule", "color": "#000", "strokeWidth": 1},
 "encoding": {"x": {"field": "year", "type": "quantitative", "scale": {"domain": [2007.64, 2071.36], "nice": false, "zero": false},
  "axis": {"orient": "bottom", "values": [2010, 2015, 2020, 2025, 2030, 2035, 2040, 2045, 2050, 2055, 2060, 2065, 2070], "format": "d", "labelFontSize": 15.5, "tickSize": 9, "labelPadding": 10, "title": null}},
  "y": {"field": "max", "type": "quantitative", "scale": {"domain": [-4, 104], "nice": false, "zero": false},
  "axis": {"orient": "right", "values": [0, 10, 20, 40, 100], "labelExpr": "datum.value==10||datum.value==40?'':datum.label", "labelAngle": -90, "labelAlign": "center", "labelBaseline": "alphabetic", "labelPadding": 27, "tickSize": 10, "labelFontSize": 12.5, "title": null}},
  "y2": {"datum": 0}}},
{"data": {"name": "autSeg"}, "mark": {"type": "bar", "color": "#000", "stroke": "#000", "strokeWidth": 2, "clip": true},
 "encoding": {"x": {"field": "year", "type": "quantitative", "axis": {"orient": "bottom", "values": [2010, 2015, 2020, 2025, 2030, 2035, 2040, 2045, 2050, 2055, 2060, 2065, 2070], "format": "d", "labelFontSize": 15.5, "tickSize": 9, "labelPadding": 10, "title": null}},
  "y": {"field": "lo", "type": "quantitative", "axis": null}, "y2": {"field": "hi"},
  "size": {"field": "d", "type": "quantitative", "scale": {"domain": [0, 12], "range": [0, 12]}, "legend": null}}},
{"data": {"name": "autSeg"}, "mark": {"type": "bar", "color": "#F26B6B", "clip": true},
 "encoding": {"x": {"field": "year", "type": "quantitative", "axis": {"orient": "bottom", "values": [2010, 2015, 2020, 2025, 2030, 2035, 2040, 2045, 2050, 2055, 2060, 2065, 2070], "format": "d", "labelFontSize": 15.5, "tickSize": 9, "labelPadding": 10, "title": null}},
  "y": {"field": "lo", "type": "quantitative", "axis": null}, "y2": {"field": "hi"},
  "size": {"field": "d", "type": "quantitative", "scale": {"domain": [3, 15], "range": [0, 12], "zero": false, "clamp": true}, "legend": null}}},
{"data": {"values": [{"txt": "Median Trend: y = 0.011x -21.12"}]}, "mark": {"type": "text", "color": "#FFA500", "fontSize": 10, "align": "left", "baseline": "middle"},
 "encoding": {"x": {"datum": 2009.62, "type": "quantitative", "axis": {"orient": "bottom", "values": [2010, 2015, 2020, 2025, 2030, 2035, 2040, 2045, 2050, 2055, 2060, 2065, 2070], "format": "d", "labelFontSize": 15.5, "tickSize": 9, "labelPadding": 10, "title": null}}, "y": {"datum": 89.5, "type": "quantitative", "axis": null}, "text": {"field": "txt"}}},
{"data": {"name": "labs"}, "mark": {"type": "text", "color": "#222", "fontSize": 10.5, "align": "left", "baseline": "middle"},
 "encoding": {"x": {"datum": 2008.4, "type": "quantitative", "axis": {"orient": "bottom", "values": [2010, 2015, 2020, 2025, 2030, 2035, 2040, 2045, 2050, 2055, 2060, 2065, 2070], "format": "d", "labelFontSize": 15.5, "tickSize": 9, "labelPadding": 10, "title": null}}, "y": {"field": "v", "type": "quantitative", "axis": null}, "text": {"field": "lab"}}},
{"data": {"name": "labs"}, "mark": {"type": "text", "color": "#222", "fontSize": 10.5, "align": "right", "baseline": "middle"},
 "encoding": {"x": {"datum": 2070.6, "type": "quantitative", "axis": {"orient": "bottom", "values": [2010, 2015, 2020, 2025, 2030, 2035, 2040, 2045, 2050, 2055, 2060, 2065, 2070], "format": "d", "labelFontSize": 15.5, "tickSize": 9, "labelPadding": 10, "title": null}}, "y": {"field": "v", "type": "quantitative", "axis": null}, "text": {"field": "lab"}}}
],
"resolve": {"scale": {"size": "independent"}, "axis": {"y": "independent"}}
}
]
}
